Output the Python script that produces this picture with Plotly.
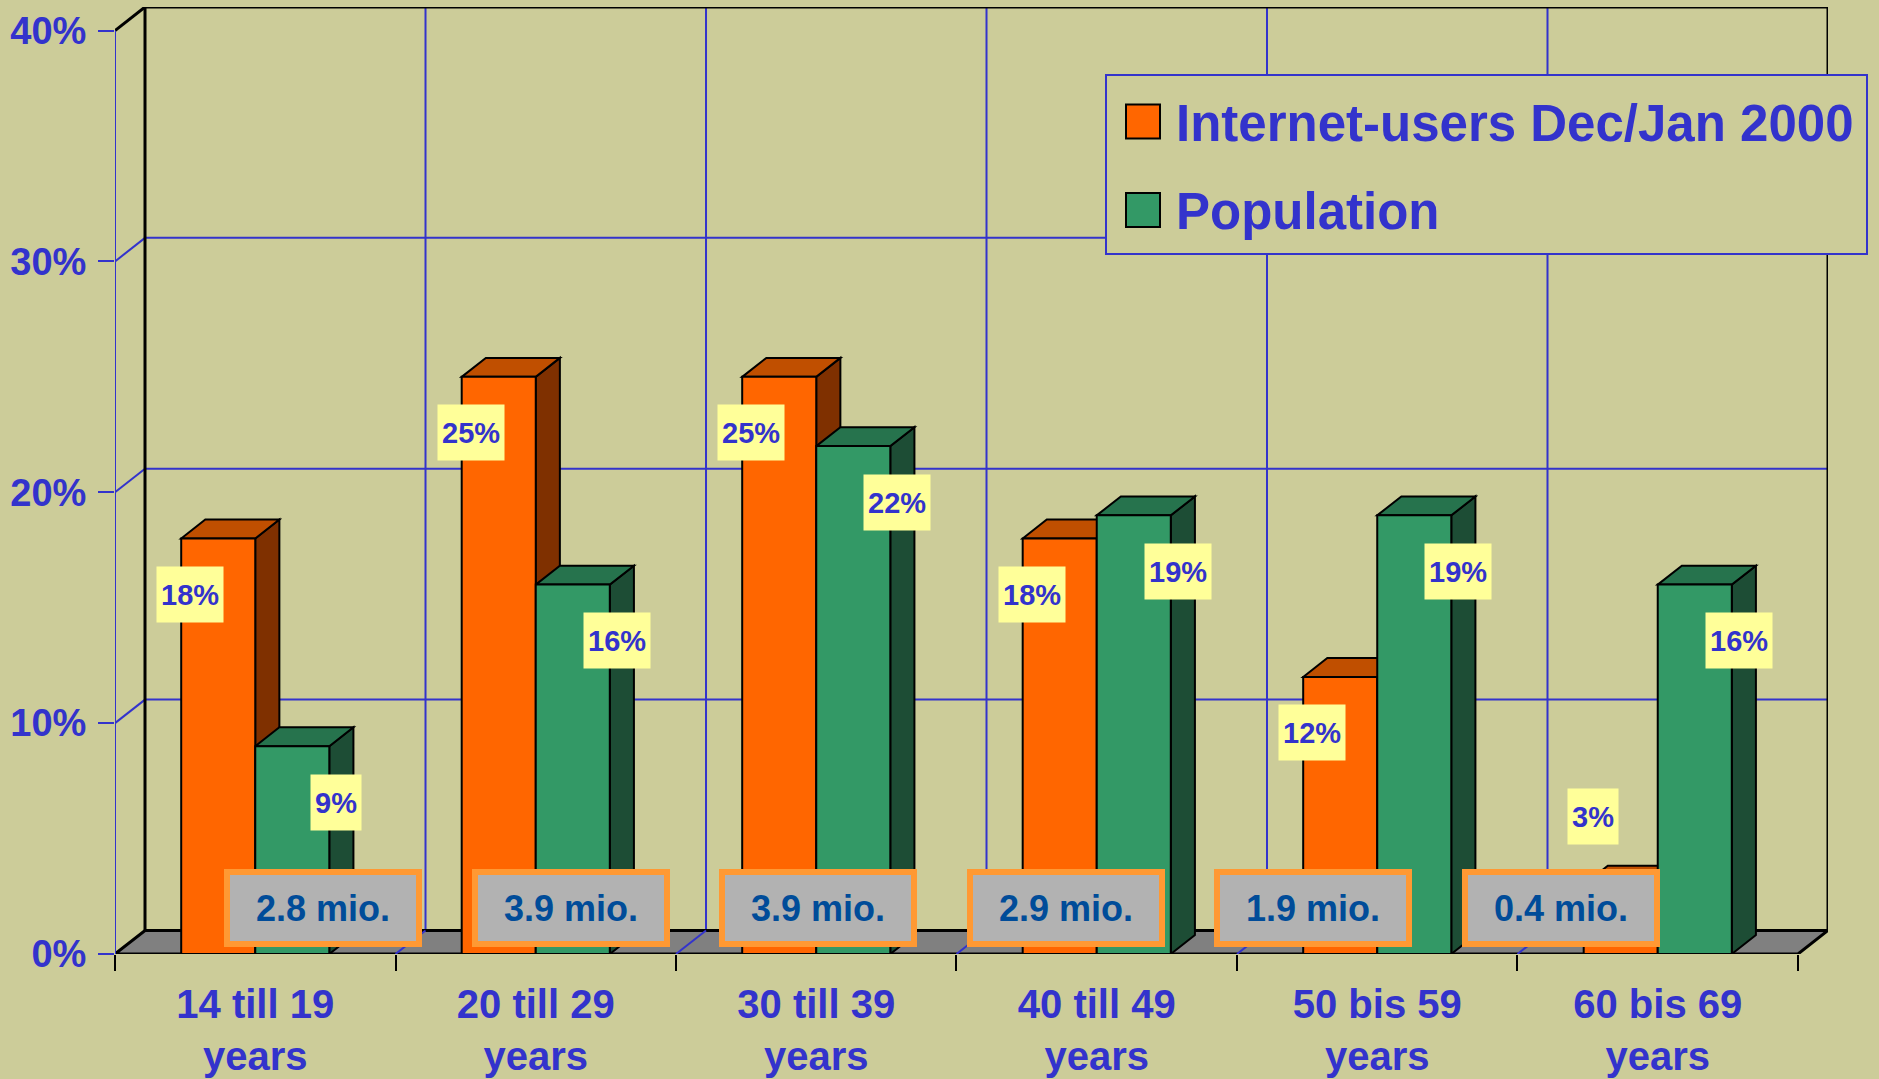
import plotly.graph_objects as go

categories = ["14 till 19<br>years", "20 till 29<br>years", "30 till 39<br>years",
              "40 till 49<br>years", "50 bis 59<br>years", "60 bis 69<br>years"]
internet_users = [18, 25, 25, 18, 12, 3]
population = [9, 16, 22, 19, 19, 16]
group_sizes = ["2.8 mio.", "3.9 mio.", "3.9 mio.", "2.9 mio.", "1.9 mio.", "0.4 mio."]
y_ticks = [0, 10, 20, 30, 40]
series_names = ["Internet-users Dec/Jan 2000", "Population"]

BLUE = "#3333CC"
BG = "#CCCC99"
FONT = "Arial, Liberation Sans, sans-serif"
# front, side, top colours for each series
COLORS = [("#FF6600", "#7F3000", "#C04F00"), ("#339966", "#1D4D35", "#26734D")]

W, H = 1879, 1079
ML, MR, MT, MB = 115, 51, 7, 125

# fake 3d depth: back wall and bar depth (x in category units, y in percent)
WALL_DX, WALL_DY = 0.107, 1.02
BAR_DX, BAR_DY = 0.086, 0.82
BAR_W = 0.264

n = len(categories)
xs = list(range(n))
x_lo, x_hi = -0.5, n - 0.5
y_top = y_ticks[-1]


def path(points):
    return "M " + " L ".join(f"{x},{y}" for x, y in points) + " Z"


def line(x0, y0, x1, y1, color, width=2, layer="below"):
    return dict(type="line", xref="x", yref="y", x0=x0, y0=y0, x1=x1, y1=y1,
                line=dict(color=color, width=width), layer=layer)


shapes = []
# back wall grid
for v in y_ticks[1:-1]:
    shapes.append(line(x_lo + WALL_DX, v + WALL_DY, x_hi + WALL_DX, v + WALL_DY, BLUE))
    shapes.append(line(x_lo, v, x_lo + WALL_DX, v + WALL_DY, BLUE))
for i in range(n - 1):
    shapes.append(line(i + 0.5 + WALL_DX, WALL_DY, i + 0.5 + WALL_DX, y_top + WALL_DY, BLUE))
# floor
shapes.append(dict(type="path", xref="x", yref="y", layer="below",
                   path=path([(x_lo, 0), (x_hi, 0), (x_hi + WALL_DX, WALL_DY), (x_lo + WALL_DX, WALL_DY)]),
                   fillcolor="#808080", line=dict(color="black", width=3)))
for i in range(n - 1):
    shapes.append(line(i + 0.5, 0, i + 0.5 + WALL_DX, WALL_DY, BLUE))
# wall edges
shapes.append(line(x_lo + WALL_DX, WALL_DY, x_lo + WALL_DX, y_top + WALL_DY, "black", 3))
shapes.append(line(x_hi + WALL_DX, WALL_DY, x_hi + WALL_DX, y_top + WALL_DY, "black", 3))
shapes.append(line(x_lo + WALL_DX, y_top + WALL_DY, x_hi + WALL_DX, y_top + WALL_DY, "black", 3))
shapes.append(line(x_lo, y_top, x_lo + WALL_DX, y_top + WALL_DY, "black", 3))
shapes.append(line(x_lo, 0, x_lo, y_top, BLUE, 2))

fig = go.Figure()
for k, (name, vals) in enumerate(zip(series_names, [internet_users, population])):
    front, side, top = COLORS[k]
    fig.add_trace(go.Bar(
        x=xs, y=vals, name=name, showlegend=False,
        marker=dict(color=front, line=dict(color="black", width=2)),
    ))
    for i, v in enumerate(vals):
        left = i + (k - 1) * BAR_W
        right = left + BAR_W
        shapes.append(dict(type="path", xref="x", yref="y", layer="below",
                           path=path([(right, 0), (right + BAR_DX, BAR_DY),
                                      (right + BAR_DX, v + BAR_DY), (right, v)]),
                           fillcolor=side, line=dict(color="black", width=2)))
        shapes.append(dict(type="path", xref="x", yref="y", layer="below",
                           path=path([(left, v), (left + BAR_DX, v + BAR_DY),
                                      (right + BAR_DX, v + BAR_DY), (right, v)]),
                           fillcolor=top, line=dict(color="black", width=2)))
        # value label
        fig.add_annotation(
            x=(left + right) / 2, y=v, text=f"{v}%", showarrow=False,
            xshift=-28 if k == 0 else 44, yshift=68 if v < 5 else -56,
            bgcolor="#FFFF99", borderpad=4, height=47,
            font=dict(family=FONT, size=29, color=BLUE, weight="bold"),
        )

# population size boxes
for i, txt in enumerate(group_sizes):
    fig.add_annotation(
        x=i, y=0, text=txt, showarrow=False, xshift=68 - 33 * i, yshift=46,
        bgcolor="#B2B2B2", bordercolor="#FF9933", borderwidth=6, borderpad=2,
        width=182, height=62,
        font=dict(family=FONT, size=36, color="#004C99", weight="bold"),
    )

# legend drawn by hand (big swatches)
pw, ph = W - ML - MR, H - MT - MB
def px(x): return (x - ML) / pw
def py(y): return (H - MB - y) / ph

shapes.append(dict(type="rect", xref="paper", yref="paper", layer="above",
                   x0=px(1106), x1=px(1867), y0=py(254), y1=py(75),
                   fillcolor=BG, line=dict(color=BLUE, width=2)))
for k, (name, yc) in enumerate(zip(series_names, [121.5, 210])):
    shapes.append(dict(type="rect", xref="paper", yref="paper", layer="above",
                       x0=px(1126), x1=px(1160), y0=py(yc + 17), y1=py(yc - 17),
                       fillcolor=COLORS[k][0], line=dict(color="black", width=2)))
    fig.add_annotation(xref="paper", yref="paper", x=px(1174), y=py(yc + 2),
                       xanchor="left", yanchor="middle", text=name, showarrow=False,
                       font=dict(family=FONT, size=51, color=BLUE, weight="bold"))

fig.update_layout(
    width=W, height=H,
    margin=dict(l=ML, r=MR, t=MT, b=MB),
    paper_bgcolor=BG, plot_bgcolor=BG,
    barmode="group", bargap=1 - 2 * BAR_W, bargroupgap=0,
    shapes=shapes,
    xaxis=dict(
        range=[x_lo, x_hi + WALL_DX], tickvals=xs, ticktext=categories,
        ticks="", showgrid=False, zeroline=False, showline=False, automargin=False,
        tickfont=dict(family=FONT, size=40, color=BLUE, weight="bold"),
        ticklabelstandoff=23,
        minor=dict(tick0=0.5, dtick=1, ticks="outside", ticklen=16,
                   tickwidth=2, tickcolor="black", showgrid=False),
    ),
    yaxis=dict(
        range=[0, y_top + WALL_DY], tickvals=y_ticks, ticktext=[f"{v}%" for v in y_ticks],
        ticks="outside", ticklen=16, tickwidth=2, tickcolor=BLUE,
        showgrid=False, zeroline=False, showline=False, automargin=False,
        tickfont=dict(family=FONT, size=38, color=BLUE, weight="bold"),
        ticklabelstandoff=4,
    ),
)

fig.write_html("out.html", config={"displayModeBar": False},
               post_script="document.body.style.margin='0';document.body.style.overflow='hidden';")
